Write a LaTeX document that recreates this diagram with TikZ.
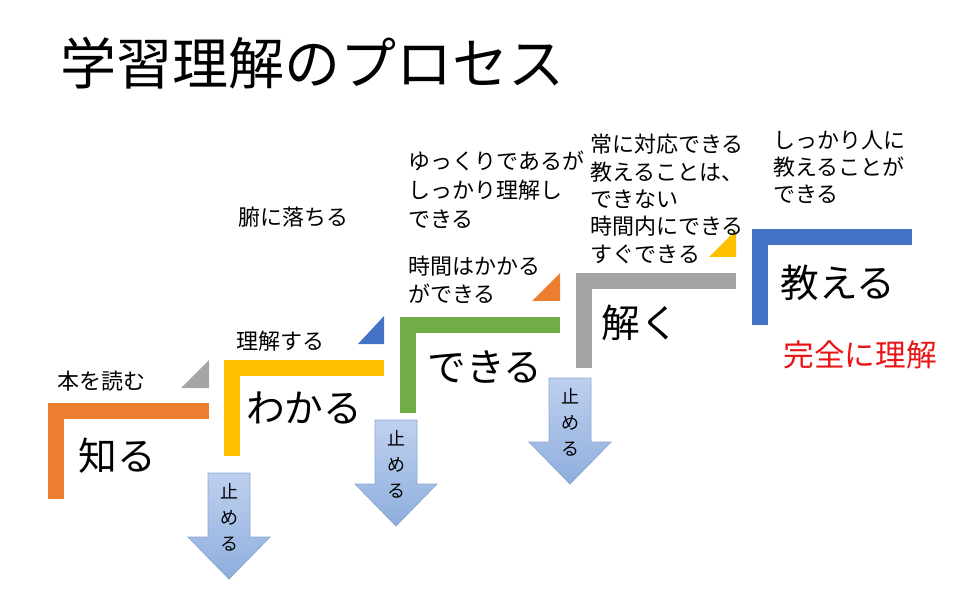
\documentclass[tikz,border=0pt]{standalone}
\usepackage{fontspec}
\setmainfont{Noto Sans CJK JP}
\usetikzlibrary{positioning}

\definecolor{stepOrange}{RGB}{237,125,49}
\definecolor{stepYellow}{RGB}{255,192,0}
\definecolor{stepGreen}{RGB}{112,173,71}
\definecolor{stepGray}{RGB}{165,165,165}
\definecolor{stepBlue}{RGB}{68,114,196}
\definecolor{arrowTop}{RGB}{190,208,238}
\definecolor{arrowBot}{RGB}{143,174,222}
\definecolor{arrowLine}{RGB}{140,168,212}
\definecolor{fullRed}{RGB}{235,20,20}

\begin{document}
\begin{tikzpicture}[
  x=0.75pt, y=-0.75pt,
  stair/.style={line width=12pt, line join=miter},
  big/.style={font=\fontsize{29}{34}\selectfont, inner sep=0pt},
  note/.style={font=\fontsize{16.5}{20.5}\selectfont, align=left, inner sep=0pt},
  stoparrow/.style={draw=arrowLine, line width=0.6pt, top color=arrowTop, bottom color=arrowBot},
  stoptext/.style={font=\fontsize{13.5}{19.5}\selectfont, align=center, inner sep=0pt}
]
\useasboundingbox (0,0) rectangle (972,606);

% Title
\node[anchor=west, inner sep=0pt, font=\fontsize{42}{48}\selectfont] (title) at (60,63) {学習理解のプロセス};

% Steps
\draw[stair, stepOrange] (56,499) -- (56,411) -- (209,411);
\draw[stair, stepYellow] (232,456) -- (232,368) -- (384,368);
\draw[stair, stepGreen] (408,413) -- (408,325) -- (560,325);
\draw[stair, stepGray] (584,368) -- (584,281) -- (736,281);
\draw[stair, stepBlue] (760,325) -- (760,237) -- (912,237);

% Corner triangles
\fill[stepGray] (209,360) -- (209,388) -- (181,388) -- cycle;
\fill[stepBlue] (384,316) -- (384,344) -- (358,344) -- cycle;
\fill[stepOrange] (560,273) -- (560,301) -- (532,301) -- cycle;
\fill[stepYellow] (736,230) -- (736,257) -- (709,257) -- cycle;

% Step labels
\node[big] (know) at (117,456) {知る};
\node[big] (grasp) at (304,408) {わかる};
\node[big] (able) at (485,367) {できる};
\node[big] (solve) at (640,323) {解く};
\node[big] (teach) at (838,283) {教える};
\node[inner sep=0pt, text=fullRed, font=\fontsize{23}{28}\selectfont] (full) at (860,355) {完全に理解};

% Notes
\node[note] (read) at (101,381) {本を読む};
\node[note] (explain) at (280,341) {理解する};
\node[note] (digest) at (293,217) {腑に落ちる};
\node[note, anchor=north west, font=\fontsize{16.5}{21}\selectfont] (takes) at (408,256) {時間はかかる\\ができる};
\node[note, anchor=north west, font=\fontsize{16.5}{21.75}\selectfont] (slow) at (408,151) {ゆっくりであるが\\しっかり理解し\\できる};
\node[note, anchor=north west] (instant) at (590,134) {常に対応できる\\教えることは、\\できない\\時間内にできる\\すぐできる};
\node[note, anchor=north west] (others) at (773,130) {しっかり人に\\教えることが\\できる};

% Stop arrows
\foreach \cx/\ty [count=\i] in {229/473, 396/420, 570/378} {
  \draw[stoparrow] (\cx-21,\ty) -- (\cx+21,\ty) -- (\cx+21,\ty+64) -- (\cx+41,\ty+64)
    -- (\cx,\ty+106) -- (\cx-41,\ty+64) -- (\cx-21,\ty+64) -- cycle;
  \node[stoptext] (stop\i) at (\cx,\ty+44) {止\\め\\る};
}

\end{tikzpicture}
\end{document}
